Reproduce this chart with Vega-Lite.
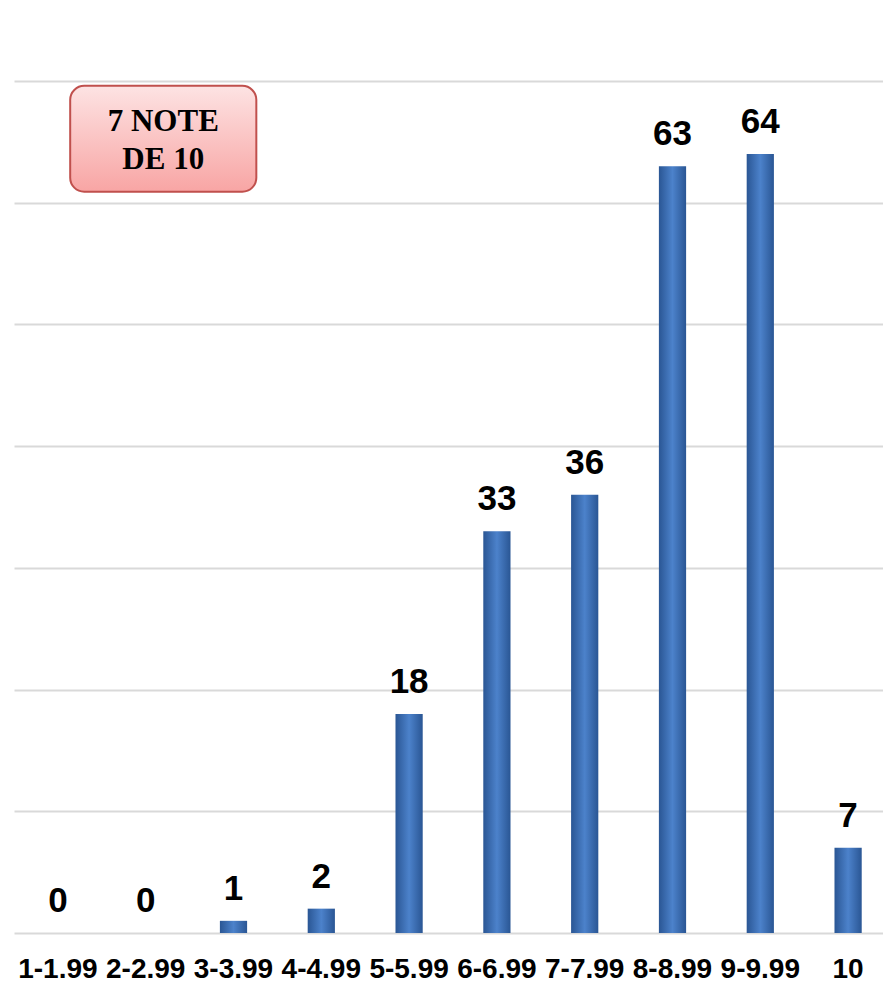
{
  "$schema": "https://vega.github.io/schema/vega-lite/v6.json",
  "autosize": "none",
  "width": 878,
  "height": 852,
  "padding": {"left": 14, "top": 81, "right": 5, "bottom": 49},
  "background": "white",
  "config": {"view": {"stroke": null}},
  "layer": [
    {
      "data": {"values": [
        {"range": "1-1.99", "count": 0},
        {"range": "2-2.99", "count": 0},
        {"range": "3-3.99", "count": 1},
        {"range": "4-4.99", "count": 2},
        {"range": "5-5.99", "count": 18},
        {"range": "6-6.99", "count": 33},
        {"range": "7-7.99", "count": 36},
        {"range": "8-8.99", "count": 63},
        {"range": "9-9.99", "count": 64},
        {"range": "10", "count": 7}
      ]},
      "encoding": {
        "x": {"field": "range", "type": "nominal", "sort": null, "scale": {"paddingInner": 0.69, "paddingOuter": 0.345}, "axis": {"title": null, "labelAngle": 0, "labelFont": "Liberation Sans", "labelFontWeight": "bold", "labelFontSize": 28, "labelColor": "black", "labelPadding": 22, "labelOverlap": false, "labelBound": false, "ticks": false, "domain": false, "orient": "bottom"}},
        "y": {"field": "count", "type": "quantitative", "scale": {"domain": [0, 70]}, "axis": {"title": null, "values": [0, 10, 20, 30, 40, 50, 60, 70], "labels": false, "ticks": false, "domain": false, "gridColor": "#d9d9d9", "gridWidth": 2, "gridOpacity": 1}}
      },
      "layer": [
        {
          "mark": {"type": "bar", "color": {"gradient": "linear", "x1": 0, "x2": 1, "y1": 0, "y2": 0, "stops": [{"offset": 0, "color": "#2a5694"}, {"offset": 0.5, "color": "#4c82cb"}, {"offset": 1, "color": "#2a5694"}]}}
        },
        {
          "mark": {"type": "text", "baseline": "bottom", "dy": -14, "font": "Liberation Sans", "fontWeight": "bold", "fontSize": 35, "color": "black"},
          "encoding": {
            "text": {"field": "count", "type": "quantitative"}
          }
        }
      ]
    },
    {
      "data": {"values": [{}]},
      "layer": [
        {
          "mark": {"type": "rect", "cornerRadius": 14, "stroke": "#c0504d", "strokeWidth": 2, "fill": {"gradient": "linear", "x1": 0, "x2": 0, "y1": 0, "y2": 1, "stops": [{"offset": 0, "color": "#fde3e3"}, {"offset": 1, "color": "#f8a5a4"}]}},
          "encoding": {
            "x": {"datum": 0.64, "type": "quantitative", "scale": {"domain": [0, 10]}, "axis": null},
            "x2": {"datum": 2.76},
            "y": {"datum": 69.6, "type": "quantitative"},
            "y2": {"datum": 60.9}
          }
        },
        {
          "mark": {"type": "text", "text": ["7 NOTE", "DE 10"], "font": "Liberation Serif", "fontWeight": "bold", "fontSize": 31, "lineHeight": 38, "align": "center", "baseline": "middle", "color": "black"},
          "encoding": {
            "x": {"datum": 1.7, "type": "quantitative", "scale": {"domain": [0, 10]}, "axis": null},
            "y": {"datum": 66.6, "type": "quantitative"}
          }
        }
      ]
    }
  ],
  "resolve": {"scale": {"x": "independent"}}
}
